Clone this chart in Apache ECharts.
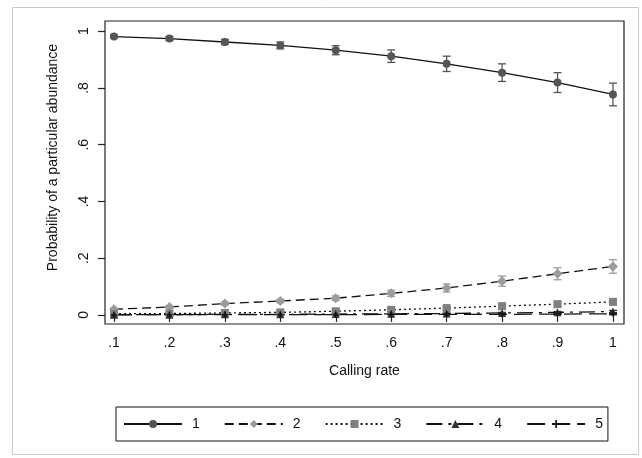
<!DOCTYPE html>
<html>
<head>
<meta charset="utf-8">
<script src="https://cdn.jsdelivr.net/npm/echarts@6/dist/echarts.min.js"></script>
<style>
html,body{margin:0;padding:0;background:#fff;}
#c{width:642px;height:458px;}
</style>
</head>
<body>
<div id="c"></div>
<script>
// ---- data ----
const xValues = [0.1, 0.2, 0.3, 0.4, 0.5, 0.6, 0.7, 0.8, 0.9, 1.0];
const xTickLabels = ['.1', '.2', '.3', '.4', '.5', '.6', '.7', '.8', '.9', '1'];
const yTickValues = [0, 0.2, 0.4, 0.6, 0.8, 1];
const yTickLabels = ['0', '.2', '.4', '.6', '.8', '1'];
const seriesNames = ['1', '2', '3', '4', '5'];

const p1 = [0.981, 0.974, 0.962, 0.950, 0.933, 0.912, 0.885, 0.854, 0.819, 0.777];
const e1 = [0.005, 0.007, 0.009, 0.012, 0.016, 0.022, 0.027, 0.031, 0.035, 0.040];
const p2 = [0.020, 0.028, 0.040, 0.049, 0.059, 0.076, 0.095, 0.119, 0.145, 0.171];
const e2 = [0.003, 0.004, 0.005, 0.006, 0.008, 0.011, 0.014, 0.018, 0.021, 0.024];
const p3 = [0.004, 0.005, 0.007, 0.009, 0.013, 0.018, 0.024, 0.031, 0.038, 0.046];
const e3 = [0.001, 0.001, 0.002, 0.002, 0.003, 0.004, 0.005, 0.006, 0.007, 0.008];
const p4 = [0.001, 0.001, 0.002, 0.002, 0.003, 0.004, 0.005, 0.007, 0.009, 0.012];
const e4 = [0.000, 0.000, 0.001, 0.001, 0.001, 0.001, 0.002, 0.002, 0.003, 0.004];
const p5 = [0.0005, 0.001, 0.001, 0.001, 0.001, 0.002, 0.002, 0.002, 0.003, 0.004];
const e5 = [0.000, 0.000, 0.000, 0.000, 0.001, 0.001, 0.001, 0.001, 0.001, 0.002];

// ---- styling ----
const FONT = '"Liberation Sans", Arial, sans-serif';
const markerColors = ['#555555', '#9c9c9c', '#808080', '#333333', '#111111'];
const markerShapes = ['circle', 'diamond', 'rect', 'triangle',
  'path://M4,0H6V4H10V6H6V10H4V6H0V4H4Z'];
const markerSizes = [8, 10, 8, 8, 6];
const dashTypes = ['solid', [9, 5], [2, 3], [16, 6, 3, 6], [18, 7]];
const allP = [p1, p2, p3, p4, p5];
const allE = [e1, e2, e3, e4, e5];

function lblFor(v, vals, labels) {
  for (let i = 0; i < vals.length; i++) if (Math.abs(vals[i] - v) < 1e-6) return labels[i];
  return '';
}

const series = [];
allP.forEach((p, k) => {
  const col = markerColors[k];
  series.push({
    name: 'err' + k,
    type: 'custom',
    z: 1,
    silent: true,
    data: xValues.map((x, i) => [x, p[i] - allE[k][i], p[i] + allE[k][i]]),
    renderItem: function (params, api) {
      const x = api.value(0);
      const lo = api.coord([x, api.value(1)]);
      const hi = api.coord([x, api.value(2)]);
      const hw = 4;
      return {
        type: 'group',
        children: [
          { type: 'line', shape: { x1: lo[0], y1: lo[1], x2: hi[0], y2: hi[1] }, style: { stroke: col, lineWidth: 1.3 } },
          { type: 'line', shape: { x1: lo[0] - hw, y1: lo[1], x2: lo[0] + hw, y2: lo[1] }, style: { stroke: col, lineWidth: 1.3 } },
          { type: 'line', shape: { x1: hi[0] - hw, y1: hi[1], x2: hi[0] + hw, y2: hi[1] }, style: { stroke: col, lineWidth: 1.3 } }
        ]
      };
    }
  });
});
allP.forEach((p, k) => {
  series.push({
    name: seriesNames[k],
    type: 'line',
    z: 3,
    data: xValues.map((x, i) => [x, p[i]]),
    symbol: markerShapes[k],
    symbolSize: markerSizes[k],
    showSymbol: true,
    itemStyle: { color: markerColors[k] },
    lineStyle: { color: '#111', width: 1.3, type: dashTypes[k] },
    emphasis: { disabled: true },
    animation: false
  });
});

const chart = echarts.init(document.getElementById('c'), null, { renderer: 'canvas' });
chart.setOption({
  animation: false,
  backgroundColor: '#fff',
  graphic: [{
    type: 'rect', left: 10, top: 5, silent: true,
    shape: { width: 626, height: 447 },
    style: { fill: 'none', stroke: '#c8c8c8', lineWidth: 1 }
  }],
  grid: {
    left: 105, right: 18, top: 21, bottom: 134,
    show: true, borderColor: '#222', borderWidth: 1.2, backgroundColor: '#fff'
  },
  xAxis: {
    type: 'value', min: 0.0838, max: 1.0199,
    name: 'Calling rate', nameLocation: 'middle', nameGap: 40,
    nameTextStyle: { fontFamily: FONT, fontSize: 14, color: '#111' },
    axisLine: { show: false },
    splitLine: { show: false },
    axisTick: { show: true, length: 7, inside: false, customValues: xValues, lineStyle: { color: '#222', width: 1.2 } },
    axisLabel: {
      customValues: xValues, margin: 12,
      fontFamily: FONT, fontSize: 14, color: '#111',
      formatter: v => lblFor(v, xValues, xTickLabels)
    }
  },
  yAxis: {
    type: 'value', min: -0.032, max: 1.036,
    name: 'Probability of a particular abundance', nameLocation: 'middle', nameGap: 45,
    nameTextStyle: { fontFamily: FONT, fontSize: 14, color: '#111', padding: [0, 0, 0, 30] },
    axisLine: { show: false },
    splitLine: { show: false },
    axisTick: { show: true, length: 7, inside: false, customValues: yTickValues, lineStyle: { color: '#222', width: 1.2 } },
    axisLabel: {
      customValues: yTickValues, margin: 14, rotate: 90,
      fontFamily: FONT, fontSize: 14, color: '#111',
      formatter: v => lblFor(v, yTickValues, yTickLabels)
    }
  },
  legend: {
    data: seriesNames,
    orient: 'horizontal',
    left: 116, top: 407,
    borderColor: '#111', borderWidth: 1,
    padding: [10, 5, 10, 7],
    itemWidth: 58, itemHeight: 10, itemGap: 24,
    selectedMode: false,
    textStyle: { fontFamily: FONT, fontSize: 14, color: '#111', padding: [0, 0, 0, 5] }
  },
  series: series
});
</script>
</body>
</html>
